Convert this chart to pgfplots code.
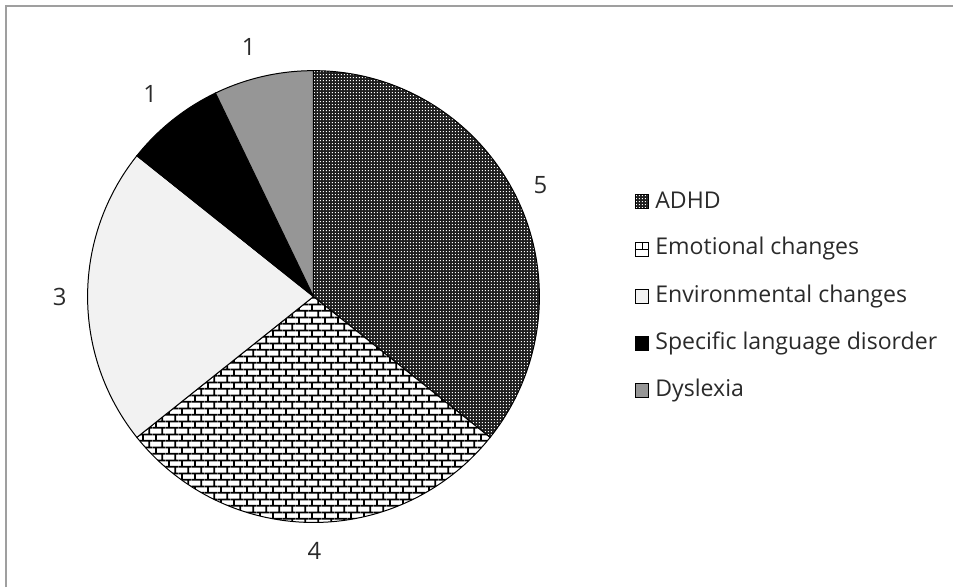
\documentclass[border=0pt]{standalone}
\usepackage{pgfplots}
\pgfplotsset{compat=1.18}
\usepackage{pgfplotstable}
\usepackage{fontspec}
\setmainfont{Open Sans}
\usetikzlibrary{patterns}

% brick pattern
\pgfdeclarepatternformonly{mybricks}{\pgfqpoint{0pt}{0pt}}{\pgfqpoint{12.8pt}{13.4pt}}{\pgfqpoint{12.8pt}{13.4pt}}{%
  \pgfsetlinewidth{1.9pt}%
  \pgfpathmoveto{\pgfqpoint{0pt}{3.35pt}}\pgfpathlineto{\pgfqpoint{12.8pt}{3.35pt}}%
  \pgfpathmoveto{\pgfqpoint{0pt}{10.05pt}}\pgfpathlineto{\pgfqpoint{12.8pt}{10.05pt}}%
  \pgfpathmoveto{\pgfqpoint{3pt}{3.35pt}}\pgfpathlineto{\pgfqpoint{3pt}{10.05pt}}%
  \pgfpathmoveto{\pgfqpoint{9.4pt}{10.05pt}}\pgfpathlineto{\pgfqpoint{9.4pt}{13.4pt}}%
  \pgfpathmoveto{\pgfqpoint{9.4pt}{0pt}}\pgfpathlineto{\pgfqpoint{9.4pt}{3.35pt}}%
  \pgfusepath{stroke}}
% white dot grid for the ADHD slice
\pgfdeclarepatternformonly{mydots}{\pgfqpoint{0pt}{0pt}}{\pgfqpoint{3pt}{3pt}}{\pgfqpoint{3pt}{3pt}}{%
  \pgfpathrectangle{\pgfqpoint{1pt}{1pt}}{\pgfqpoint{0.9pt}{0.9pt}}%
  \pgfusepath{fill}}

\definecolor{txt}{HTML}{2A2A2A}
\definecolor{envfill}{HTML}{F2F2F2}
\definecolor{dysfill}{HTML}{969696}
\definecolor{adhdbase}{HTML}{1E1E1E}

\pgfplotstableread[col sep=comma]{
label,value
ADHD,5
Emotional changes,4
Environmental changes,3
Specific language disorder,1
Dyslexia,1
}\piedata

% cumulative angles (clockwise from 90 degrees)
\pgfmathsetmacro\pietotal{0}
\pgfplotsforeachungrouped \i in {0,...,4}{%
  \pgfplotstablegetelem{\i}{value}\of\piedata
  \pgfmathsetmacro\pietotal{\pietotal+\pgfplotsretval}%
}
\pgfmathsetmacro\cur{90}
\pgfplotsforeachungrouped \i in {0,...,4}{%
  \pgfplotstablegetelem{\i}{value}\of\piedata
  \expandafter\xdef\csname pieS\i\endcsname{\cur}%
  \pgfmathsetmacro\cur{\cur-360*\pgfplotsretval/\pietotal}%
  \expandafter\xdef\csname pieE\i\endcsname{\cur}%
}

\newcommand\slice[2]{% #1 index, #2 style
  \path[#2] (axis cs:315,298) -- ++(\csname pieS#1\endcsname:227pt)
    arc[start angle=\csname pieS#1\endcsname, end angle=\csname pieE#1\endcsname, radius=227pt] -- cycle;}

\begin{document}
\begin{tikzpicture}
\begin{axis}[
  width=954pt, height=586pt, scale only axis,
  xmin=0, xmax=954, ymin=0, ymax=586, y dir=reverse,
  hide axis, clip=false,
]
\addplot[draw=none, forget plot] coordinates {(0,0) (954,586)};
% frame (left and top edges visible)
\draw[gray!75, line width=1.2pt] (axis cs:6,590) -- (axis cs:6,6) -- (axis cs:958,6);
% slices
\slice{0}{fill=adhdbase}
\slice{0}{pattern=mydots, pattern color=white}
\slice{0}{draw=black, line width=1pt}
\slice{1}{fill=white}
\slice{1}{pattern=mybricks, pattern color=black}
\slice{1}{draw=black, line width=1pt}
\slice{2}{fill=envfill, draw=black, line width=1pt}
\slice{3}{fill=black, draw=black, line width=1pt}
\slice{4}{fill=dysfill, draw=black, line width=1pt}
% value labels
\begin{scope}[every node/.style={text=txt, font=\fontsize{24}{28}\selectfont}]
\node at (axis cs:543,186) {5};
\node at (axis cs:316,554) {4};
\node at (axis cs:60,298) {3};
\node at (axis cs:151,94) {1};
\node at (axis cs:250,47) {1};
\end{scope}
% legend
\begin{scope}[every node/.style={text=txt, anchor=west, font=\fontsize{23.2}{27}\selectfont}]
\fill[adhdbase] (axis cs:638,195) rectangle (axis cs:652,209);
\fill[pattern=mydots, pattern color=white] (axis cs:638,195) rectangle (axis cs:652,209);
\draw[black, line width=0.8pt] (axis cs:638,195) rectangle (axis cs:652,209);
\node at (axis cs:655,201) {ADHD};
\draw[black, line width=0.8pt, fill=white] (axis cs:638,244) rectangle (axis cs:652,258);
\draw[black, line width=0.8pt] (axis cs:638,251) -- (axis cs:652,251) (axis cs:645,244) -- (axis cs:645,251);
\node at (axis cs:655,250) {Emotional changes};
\draw[black, line width=0.8pt, fill=envfill] (axis cs:638,291) rectangle (axis cs:652,305);
\node at (axis cs:655,298) {Environmental changes};
\draw[black, line width=0.8pt, fill=black] (axis cs:638,338) rectangle (axis cs:652,352);
\node at (axis cs:655,345) {Specific language disorder};
\draw[black, line width=0.8pt, fill=dysfill] (axis cs:638,385) rectangle (axis cs:652,399);
\node at (axis cs:655,392) {Dyslexia};
\end{scope}
\end{axis}
\end{tikzpicture}
\end{document}
